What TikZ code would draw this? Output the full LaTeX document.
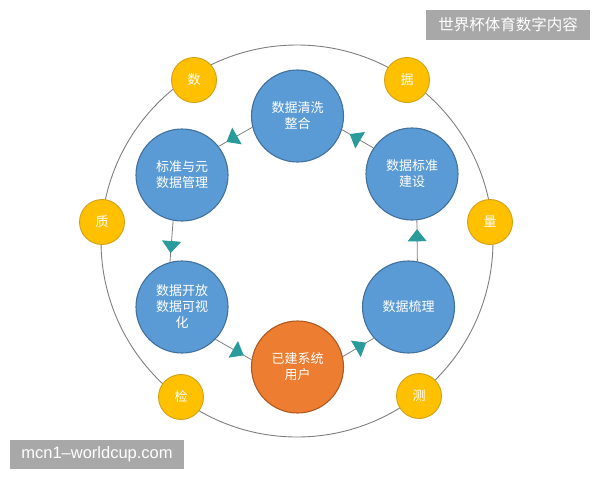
\documentclass[tikz,border=0pt]{standalone}
\usepackage{fontspec}
\setmainfont{Noto Sans CJK SC}
\newfontfamily\urlfont{Liberation Sans}
\usetikzlibrary{arrows.meta,decorations.markings}
\definecolor{ringgray}{HTML}{7F7F7F}
\definecolor{stepblue}{HTML}{5B9BD5}
\definecolor{stepline}{HTML}{41719C}
\definecolor{userorange}{HTML}{ED7D31}
\definecolor{userline}{HTML}{AE5A21}
\definecolor{gold}{HTML}{FFC000}
\definecolor{goldline}{HTML}{D4A017}
\definecolor{arrowteal}{HTML}{2A9B9B}
\definecolor{taggray}{HTML}{A8A8A8}

\begin{document}
\begin{tikzpicture}[x=1pt,y=-1pt,
  stepdisc/.style={circle,draw=stepline,fill=stepblue,line width=1.1pt,minimum size=92pt,inner sep=0pt,
    text=white,align=center,font=\fontsize{13}{16}\selectfont},
  golddisc/.style={circle,draw=goldline,fill=gold,line width=0.9pt,minimum size=45pt,inner sep=0pt,
    text=white,font=\fontsize{13}{16}\selectfont},
  flow/.style={draw=ringgray,line width=0.8pt,postaction={decorate},
    decoration={markings,mark=at position -9pt with {\arrow{Triangle[length=12pt,width=19pt,color=arrowteal]}}}},
  tag/.style={fill=taggray,text=white,inner sep=0pt}]
\useasboundingbox (0,0) rectangle (600,480);
\draw[ringgray,line width=0.9pt] (297,241) circle[radius=196pt];

\node[golddisc] (shu) at (194,80) {数};
\node[golddisc] (ju) at (407,80) {据};
\node[golddisc] (zhi) at (102,222) {质};
\node[golddisc] (liang) at (490,222) {量};
\node[golddisc] (jian) at (181,397) {检};
\node[golddisc] (ce) at (419,396) {测};

\node[stepdisc] (clean) at (297.5,116) {数据清洗\\整合};
\node[stepdisc] (meta) at (182,175) {标准与元\\数据管理};
\node[stepdisc] (spec) at (412,174) {数据标准\\建设};
\node[stepdisc] (open) at (182,307) {数据开放\\数据可视\\化};
\node[stepdisc] (sort) at (408.5,307) {数据梳理};
\node[stepdisc,draw=userline,fill=userorange] (legacy) at (297.5,367) {已建系统\\用户};

\draw[flow] (clean.194) -- (meta.38);
\draw[flow] (spec.146) -- (clean.343);
\draw[flow] (meta.259) -- (open.105);
\draw[flow] (open.316) -- (legacy.171);
\draw[flow] (legacy.13) -- (sort.222);
\draw[flow] (sort.79) -- (spec.276);

\node[tag,minimum width=164pt,minimum height=30pt,font=\fontsize{15.5}{18}\selectfont] (title) at (508,25) {世界杯体育数字内容};
\node[tag,minimum width=174pt,minimum height=29pt,font=\urlfont\fontsize{16.5}{19}\selectfont] (site) at (97,454.5) {mcn1–worldcup.com};
\end{tikzpicture}
\end{document}
